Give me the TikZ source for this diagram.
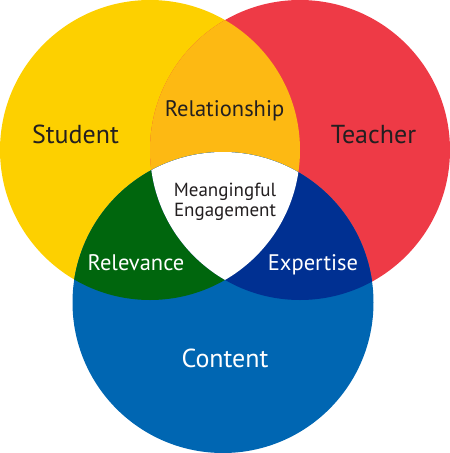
\documentclass[tikz,border=0pt]{standalone}
\usepackage{fontspec}
\setmainfont{PT Sans}
\definecolor{studentyellow}{HTML}{FDD000}
\definecolor{teacherred}{HTML}{EE3A46}
\definecolor{contentblue}{HTML}{0066B2}
\definecolor{relorange}{HTML}{FDB913}
\definecolor{relgreen}{HTML}{00660D}
\definecolor{expblue}{HTML}{003092}
\definecolor{labeltext}{HTML}{231F20}
\tikzset{
    darklabel/.style={text=labeltext, inner sep=0pt, anchor=base},
    lightlabel/.style={text=white, inner sep=0pt, anchor=base},
    biglabel/.style={font=\fontsize{26}{28}\selectfont},
    midlabel/.style={font=\fontsize{22.5}{24}\selectfont}
}

\begin{document}
\begin{tikzpicture}[x=1pt, y=-1pt]
    % Canvas
    \useasboundingbox (0,0) rectangle (450,453);
    \coordinate (student) at (150,150);
    \coordinate (teacher) at (300,150);
    \coordinate (content) at (223,302.5);
    % Circles
    \fill[studentyellow] (student) circle[radius=150];
    \fill[teacherred] (teacher) circle[radius=150];
    \fill[contentblue] (content) circle[radius=150.5];
    % Overlaps
    \begin{scope}
        \clip (student) circle[radius=150];
        \fill[relorange] (teacher) circle[radius=150];
        \fill[relgreen] (content) circle[radius=150.5];
    \end{scope}
    \begin{scope}
        \clip (teacher) circle[radius=150];
        \fill[expblue] (content) circle[radius=150.5];
        \clip (content) circle[radius=150.5];
        \fill[white] (student) circle[radius=150];
    \end{scope}
    % Labels
    \node[darklabel, biglabel] (studentlbl) at (75.5,143) {Student};
    \node[darklabel, biglabel] (teacherlbl) at (373.5,143) {Teacher};
    \node[lightlabel, biglabel] (contentlbl) at (225,367) {Content};
    \node[darklabel, midlabel] (relationlbl) at (224.5,116) {Relationship};
    \node[lightlabel, midlabel] (relevancelbl) at (136,270) {Relevance};
    \node[lightlabel, midlabel] (expertiselbl) at (313,270) {Expertise};
    \node[darklabel, font=\fontsize{19}{19.7}\selectfont, align=center] (engagelbl) at (225,216.5) {Meangingful\\Engagement};
\end{tikzpicture}
\end{document}
